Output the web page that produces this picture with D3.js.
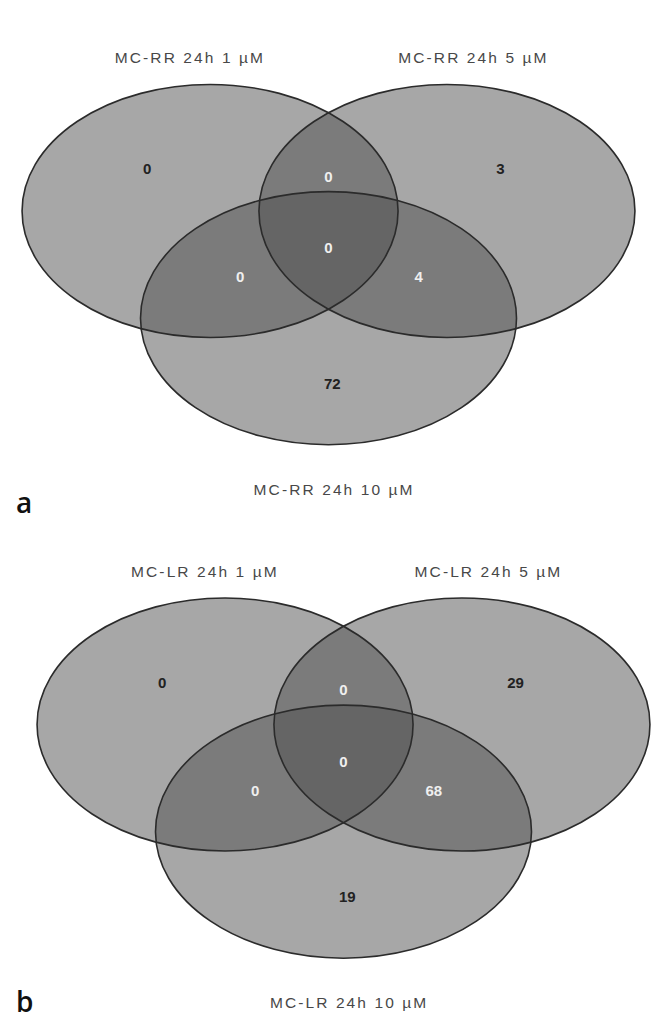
<!DOCTYPE html>
<html>
<head>
<meta charset="utf-8">
<script src="https://cdn.jsdelivr.net/npm/d3@7"></script>
<style>
  html, body { margin: 0; padding: 0; background: #fff; }
  svg { display: block; }
</style>
</head>
<body>
<svg id="chart" width="660" height="1021"></svg>
<script>
// ---- Data ----
const regionKeys = ["1", "2", "3", "12", "13", "23", "123"];
const panelLetters = ["a", "b"];
const setLabelsA = ["MC-RR 24h 1 µM", "MC-RR 24h 5 µM", "MC-RR 24h 10 µM"];
const countsA = [0, 3, 72, 0, 0, 4, 0];
const setLabelsB = ["MC-LR 24h 1 µM", "MC-LR 24h 5 µM", "MC-LR 24h 10 µM"];
const countsB = [0, 29, 19, 0, 0, 68, 0];

// ---- Layout (abstract Venn units, rx = 1) ----
const circleCenters = [[-0.63, 0], [0.63, 0], [0.0, 0.57]];
const ellRx = 1, ellRy = 0.673;
const regionPos = {
  "1": [-0.965, -0.224], "2": [0.915, -0.224], "3": [0.02, 0.915],
  "12": [0, -0.184], "13": [-0.47, 0.351], "23": [0.48, 0.349], "123": [0, 0.196]
};
const labelPos = [[-0.737, -0.786], [0.771, -0.786], [0.03, 1.51]];
const darkRegions = new Set(["12", "13", "23", "123"]);

const panels = [
  { letter: panelLetters[0], labels: setLabelsA, counts: countsA, ox: 328.5, oy: 211, unit: 188, letterX: 16, letterY: 513 },
  { letter: panelLetters[1], labels: setLabelsB, counts: countsB, ox: 343.5, oy: 724.5, unit: 188, letterX: 16, letterY: 1012 }
];

const svg = d3.select("#chart");

panels.forEach(p => {
  const x = d3.scaleLinear().domain([-1, 1]).range([p.ox - p.unit, p.ox + p.unit]);
  const y = d3.scaleLinear().domain([-1, 1]).range([p.oy - p.unit, p.oy + p.unit]);
  const g = svg.append("g");

  g.selectAll("ellipse.fill")
    .data(circleCenters)
    .join("ellipse")
    .attr("class", "fill")
    .attr("cx", d => x(d[0]))
    .attr("cy", d => y(d[1]))
    .attr("rx", x(ellRx) - x(0))
    .attr("ry", y(ellRy) - y(0))
    .attr("fill", "#505050")
    .attr("fill-opacity", 0.5)
    .attr("stroke", "none");

  g.selectAll("ellipse.line")
    .data(circleCenters)
    .join("ellipse")
    .attr("class", "line")
    .attr("cx", d => x(d[0]))
    .attr("cy", d => y(d[1]))
    .attr("rx", x(ellRx) - x(0))
    .attr("ry", y(ellRy) - y(0))
    .attr("fill", "none")
    .attr("stroke", "#2b2b2b")
    .attr("stroke-width", 1.6);

  g.selectAll("text.count")
    .data(regionKeys.map((k, i) => ({ k, v: p.counts[i] })))
    .join("text")
    .attr("class", "count")
    .attr("x", d => x(regionPos[d.k][0]))
    .attr("y", d => y(regionPos[d.k][1]))
    .attr("text-anchor", "middle")
    .attr("dominant-baseline", "central")
    .attr("font-family", "Liberation Sans, Arial, sans-serif")
    .attr("font-size", 15)
    .attr("font-weight", "bold")
    .attr("fill", d => darkRegions.has(d.k) ? "#efefef" : "#222")
    .text(d => d.v);

  g.selectAll("text.setlabel")
    .data(p.labels)
    .join("text")
    .attr("class", "setlabel")
    .attr("x", (d, i) => x(labelPos[i][0]))
    .attr("y", (d, i) => y(labelPos[i][1]))
    .attr("text-anchor", "middle")
    .attr("font-family", "Liberation Sans, Arial, sans-serif")
    .attr("font-size", 15.5)
    .attr("letter-spacing", 2.1)
    .attr("fill", "#484848")
    .text(d => d);

  g.append("text")
    .attr("x", p.letterX)
    .attr("y", p.letterY)
    .attr("font-family", "Open Sans, sans-serif")
    .attr("font-size", 28)
    .attr("font-weight", 600)
    .attr("fill", "#111")
    .text(p.letter);
});
</script>
</body>
</html>
